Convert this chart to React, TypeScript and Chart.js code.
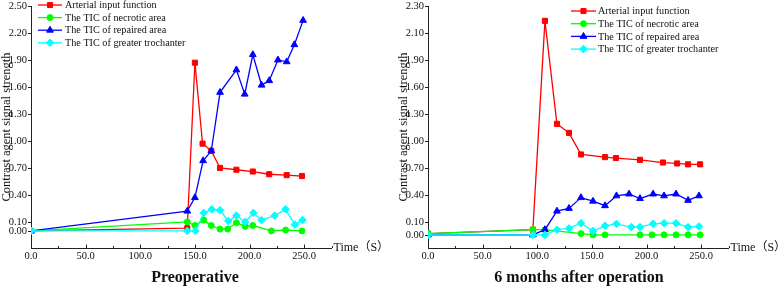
import React, { useEffect, useRef } from "react";
import { Chart, registerables, LinearScale } from "chart.js";
import { drawPoint } from "chart.js/helpers";

Chart.register(...registerables);

// ---------- data: left panel (Preoperative) ----------
const leftAifT = [0, 143, 150, 157, 165, 173, 188, 203, 218, 234, 248];
const leftAifV = [0, 0.03, 1.87, 0.97, 0.89, 0.7, 0.68, 0.66, 0.63, 0.62, 0.61];
const leftNecT = [0, 143, 150, 158, 165, 173, 180, 188, 196, 203, 220, 233, 248];
const leftNecV = [0, 0.1, 0.06, 0.12, 0.06, 0.02, 0.02, 0.09, 0.05, 0.06, 0.0, 0.01, 0.0];
const leftRepT = [0, 143, 150, 157.5, 165, 173, 188, 195.6, 203, 211, 218, 226, 234, 241, 249];
const leftRepV = [0, 0.22, 0.37, 0.78, 0.89, 1.54, 1.79, 1.52, 1.96, 1.62, 1.67, 1.9, 1.88, 2.07, 2.34];
const leftTroT = [0, 143, 150.5, 158, 165.5, 173, 180.5, 188, 196, 203.5, 211, 223, 233, 241.5, 248.5];
const leftTroV = [0, 0.0, 0.0, 0.2, 0.24, 0.23, 0.11, 0.17, 0.1, 0.2, 0.12, 0.17, 0.24, 0.07, 0.12];

// ---------- data: right panel (6 months after operation) ----------
const rightAifT = [0, 96, 107, 118, 129, 140, 162, 172, 194, 215, 228, 238, 249];
const rightAifV = [0.01, 0.04, 2.19, 1.19, 1.09, 0.85, 0.82, 0.81, 0.79, 0.76, 0.75, 0.74, 0.74];
const rightNecT = [0, 96, 107, 140, 151, 162, 194, 205, 216, 227, 238, 249];
const rightNecV = [0.01, 0.04, 0.04, 0.01, 0, 0, 0, 0, 0, 0, 0, 0];
const rightRepT = [0, 96, 107, 118, 129, 140, 151, 162, 172.5, 184, 194, 206, 216, 227, 238, 248];
const rightRepV = [0, 0, 0.04, 0.22, 0.25, 0.37, 0.33, 0.28, 0.39, 0.41, 0.36, 0.41, 0.39, 0.41, 0.34, 0.39];
const rightTroT = [0, 96, 107, 118, 129, 140, 151, 162, 172.5, 186, 194, 206, 216, 227, 238, 248];
const rightTroV = [0, 0, 0, 0.04, 0.05, 0.09, 0.03, 0.07, 0.085, 0.06, 0.06, 0.085, 0.09, 0.09, 0.06, 0.065];

// ---------- tick labels ----------
const leftYTicks = [0, 0.1, 0.4, 0.7, 1.0, 1.3, 1.6, 1.9, 2.2, 2.5];
const leftYPlaces = [0, 0.1, 0.4, 0.7, 1.0, 1.3, 1.6, 1.9, 2.2, 2.5];
const rightYTicks = [0, 0.1, 0.4, 0.7, 1.0, 1.3, 1.6, 1.9, 2.1, 2.3];
const rightYPlaces = [-0.044, 0.1, 0.4, 0.7, 1.0, 1.3, 1.6, 1.9, 2.2, 2.5];
const xMajorTicks = [0, 50, 100, 150, 200, 250];
const xMinorTicks = [25, 75, 125, 175, 225, 275];

const seriesNames = [
  "Arterial input function",
  "The TIC of necrotic area",
  "The TIC of repaired area",
  "The TIC of greater trochanter",
];
const seriesColors = ["#FF0000", "#00FF00", "#0000FF", "#00FFFF"];
const seriesShapes = ["rect", "circle", "triangle", "rectRot"];
const seriesRadius = [3.6, 3, 3.9, 3.8];

const SERIF = '"Liberation Serif", "Times New Roman", serif';

function makePiecewiseScale(id: string, real: number[], place: number[]) {
  const toPlace = (v: number) => {
    const n = real.length;
    let i = 0;
    if (v <= real[0]) i = 0;
    else if (v >= real[n - 1]) i = n - 2;
    else {
      while (i < n - 2 && v > real[i + 1]) i++;
    }
    const f = (v - real[i]) / (real[i + 1] - real[i]);
    return place[i] + f * (place[i + 1] - place[i]);
  };
  const toReal = (p: number) => {
    const n = place.length;
    let i = 0;
    if (p <= place[0]) i = 0;
    else if (p >= place[n - 1]) i = n - 2;
    else {
      while (i < n - 2 && p > place[i + 1]) i++;
    }
    const f = (p - place[i]) / (place[i + 1] - place[i]);
    return real[i] + f * (real[i + 1] - real[i]);
  };
  class PiecewiseScale extends (LinearScale as any) {
    static id = id;
    static defaults = {};
    buildTicks() {
      return real.map((v) => ({ value: v }));
    }
    getPixelForValue(v: number) {
      if (v === null || v === undefined || isNaN(v)) return NaN;
      return super.getPixelForValue(toPlace(v));
    }
    getValueForPixel(px: number) {
      return toReal(super.getValueForPixel(px));
    }
  }
  return PiecewiseScale;
}

Chart.register(makePiecewiseScale("pwLeft", leftYTicks, leftYPlaces) as any);
Chart.register(makePiecewiseScale("pwRight", rightYTicks, rightYPlaces) as any);

type PanelCfg = {
  width: number;
  scaleType: string;
  title: string;
  titleX: number;
  legendLineX0: number;
  legendLineX1: number;
  legendTextX: number;
  legendY: number[];
  series: { t: number[]; v: number[] }[];
};

const leftPanel: PanelCfg = {
  width: 397,
  scaleType: "pwLeft",
  title: "Preoperative",
  titleX: 195,
  legendLineX0: 38,
  legendLineX1: 62,
  legendTextX: 65,
  legendY: [5, 17.6, 30.2, 42.8],
  series: [
    { t: leftAifT, v: leftAifV },
    { t: leftNecT, v: leftNecV },
    { t: leftRepT, v: leftRepV },
    { t: leftTroT, v: leftTroV },
  ],
};

const rightPanel: PanelCfg = {
  width: 387,
  scaleType: "pwRight",
  title: "6 months after operation",
  titleX: 182,
  legendLineX0: 174,
  legendLineX1: 199,
  legendTextX: 201,
  legendY: [11, 23.7, 36.4, 49.1],
  series: [
    { t: rightAifT, v: rightAifV },
    { t: rightNecT, v: rightNecV },
    { t: rightRepT, v: rightRepV },
    { t: rightTroT, v: rightTroV },
  ],
};

function overlayPlugin(cfg: PanelCfg) {
  return {
    id: "overlay",
    afterDraw(chart: any) {
      const ctx: CanvasRenderingContext2D = chart.ctx;
      const { left, right, top, bottom } = chart.chartArea;
      const xs = chart.scales.x;
      const ys = chart.scales.y;
      ctx.save();
      ctx.strokeStyle = "#222";
      ctx.lineWidth = 1;
      ctx.beginPath();
      xMajorTicks.forEach((v) => {
        const px = Math.round(xs.getPixelForValue(v)) + 0.5;
        ctx.moveTo(px, bottom);
        ctx.lineTo(px, bottom - 3.5);
      });
      xMinorTicks.forEach((v) => {
        const px = Math.round(xs.getPixelForValue(v)) + 0.5;
        ctx.moveTo(px, bottom);
        ctx.lineTo(px, bottom - 2);
      });
      ys.ticks.forEach((t: any) => {
        const py = Math.round(ys.getPixelForValue(t.value)) + 0.5;
        ctx.moveTo(left - 3, py);
        ctx.lineTo(left, py);
      });
      ctx.stroke();

      ctx.fillStyle = "#111";
      ctx.font = `12px ${SERIF.replace("serif", '"Noto Sans CJK SC", serif')}`;
      ctx.textAlign = "left";
      ctx.textBaseline = "middle";
      ctx.fillText("Time\uFF08S\uFF09", right + 2, bottom);

      ctx.save();
      ctx.translate(7, (top + bottom) / 2);
      ctx.rotate(-Math.PI / 2);
      ctx.textAlign = "center";
      ctx.font = `12.5px ${SERIF}`;
      ctx.fillText("Contrast agent signal strength", 0, 0);
      ctx.restore();

      ctx.font = `bold 16px ${SERIF}`;
      ctx.textAlign = "center";
      ctx.fillText(cfg.title, cfg.titleX, 278);

      // legend
      ctx.textAlign = "left";
      ctx.font = `10.2px ${SERIF}`;
      chart.data.datasets.forEach((ds: any, i: number) => {
        const y = cfg.legendY[i];
        ctx.strokeStyle = ds.borderColor;
        ctx.lineWidth = 1.3;
        ctx.beginPath();
        ctx.moveTo(cfg.legendLineX0, y);
        ctx.lineTo(cfg.legendLineX1, y);
        ctx.stroke();
        ctx.fillStyle = ds.backgroundColor;
        ctx.strokeStyle = ds.borderColor;
        ctx.lineWidth = 1;
        drawPoint(
          ctx,
          { pointStyle: ds.pointStyle, radius: ds.pointRadius, rotation: 0, borderWidth: 1 } as any,
          (cfg.legendLineX0 + cfg.legendLineX1) / 2,
          y
        );
        ctx.fillStyle = "#111";
        ctx.fillText(ds.label, cfg.legendTextX, y + 0.5);
      });
      ctx.restore();
    },
  };
}

function buildChart(canvas: HTMLCanvasElement, cfg: PanelCfg) {
  const plotRight = 331.5;
  const datasets = cfg.series.map((s, i) => ({
    label: seriesNames[i],
    data: s.t.map((t, k) => ({ x: t, y: s.v[k] })),
    borderColor: seriesColors[i],
    backgroundColor: seriesColors[i],
    pointStyle: seriesShapes[i],
    pointRadius: seriesRadius[i],
    pointBorderWidth: 1,
    borderWidth: 1.3,
    tension: 0,
    order: 3 - i,
  }));
  return new Chart(canvas, {
    type: "line",
    data: { datasets },
    plugins: [overlayPlugin(cfg) as any],
    options: {
      animation: false,
      responsive: false,
      devicePixelRatio: 1,
      events: [],
      layout: { padding: { top: 6, right: cfg.width - plotRight, left: 0, bottom: 0 } },
      plugins: { legend: { display: false }, tooltip: { enabled: false }, title: { display: false } },
      scales: {
        x: {
          type: "linear",
          min: 0,
          max: 275,
          afterBuildTicks: (s: any) => {
            s.ticks = xMajorTicks.map((v) => ({ value: v }));
          },
          afterFit: (s: any) => {
            s.height = 40;
            s.paddingLeft = 0;
            s.paddingRight = 0;
          },
          grid: { display: false, drawTicks: false, tickLength: 0 },
          border: { display: true, color: "#222", width: 1 },
          ticks: {
            autoSkip: false,
            maxRotation: 0,
            padding: 2,
            color: "#111",
            font: { family: SERIF, size: 10.5 },
            callback: (v: any) => Number(v).toFixed(1),
          },
        },
        y: {
          type: cfg.scaleType as any,
          min: -0.19,
          max: 2.5,
          afterFit: (s: any) => {
            s.width = 31;
            s.paddingTop = 0;
            s.paddingBottom = 0;
          },
          grid: { display: false, drawTicks: false, tickLength: 0 },
          border: { display: true, color: "#222", width: 1 },
          ticks: {
            autoSkip: false,
            padding: 4,
            color: "#111",
            font: { family: SERIF, size: 10.5 },
            callback: (v: any) => Number(v).toFixed(2),
          },
        },
      },
    } as any,
  });
}

export default function App() {
  const leftRef = useRef<HTMLCanvasElement>(null);
  const rightRef = useRef<HTMLCanvasElement>(null);
  useEffect(() => {
    const a = buildChart(leftRef.current!, leftPanel);
    const b = buildChart(rightRef.current!, rightPanel);
    return () => {
      a.destroy();
      b.destroy();
    };
  }, []);
  return (
    <div style={{ position: "absolute", left: 0, top: 0, width: 784, height: 288, background: "#fff" }}>
      <canvas
        ref={leftRef}
        width={leftPanel.width}
        height={288}
        style={{ position: "absolute", left: 0, top: 0, width: leftPanel.width, height: 288 }}
      />
      <canvas
        ref={rightRef}
        width={rightPanel.width}
        height={288}
        style={{ position: "absolute", left: 397, top: 0, width: rightPanel.width, height: 288 }}
      />
    </div>
  );
}
